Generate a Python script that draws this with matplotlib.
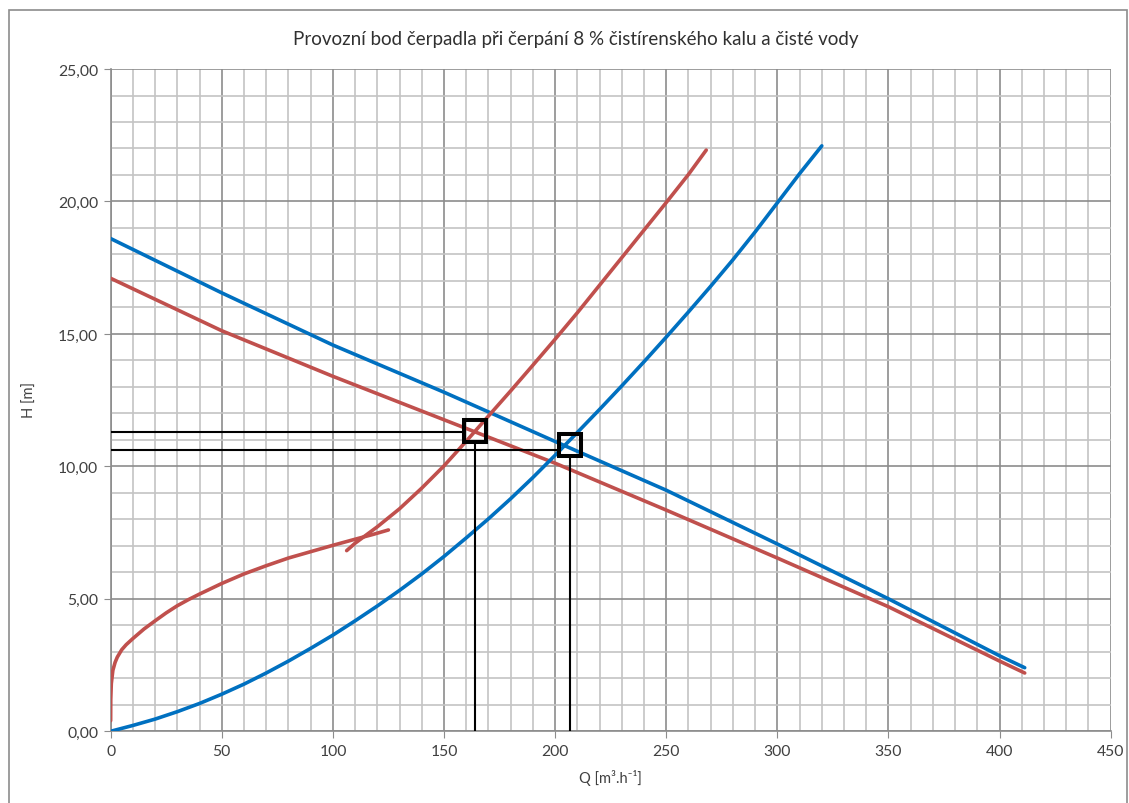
import matplotlib
matplotlib.use("Agg")
import matplotlib.pyplot as plt
from matplotlib.ticker import MultipleLocator, FuncFormatter
from matplotlib.patches import Rectangle

plt.rcParams['font.family'] = ['Lato', 'DejaVu Sans']

# pump curve - clean water (blue)
pump_w_q = [0, 50, 100, 150, 200, 250, 300, 350, 400, 411.3]
pump_w_h = [18.6, 16.55, 14.58, 12.8, 10.94, 9.1, 7.07, 5.0, 2.85, 2.4]

# pump curve - 8 % sludge (red)
pump_s_q = [0, 50, 100, 150, 200, 250, 300, 350, 400, 411.3]
pump_s_h = [17.1, 15.12, 13.4, 11.76, 10.12, 8.35, 6.54, 4.7, 2.65, 2.2]

# system curve - clean water (blue)
sys_w_q = [0, 10, 20, 30, 40, 50, 60, 70, 80, 90, 100, 110, 120, 130, 140, 150,
           160, 170, 180, 190, 200, 210, 220, 230, 240, 250, 260, 270, 280, 290,
           300, 310, 320]
sys_w_h = [0, 0.22, 0.46, 0.74, 1.05, 1.40, 1.78, 2.2, 2.65, 3.13, 3.63, 4.17,
           4.73, 5.32, 5.94, 6.6, 7.3, 8.02, 8.78, 9.58, 10.42, 11.28, 12.15,
           13.04, 13.95, 14.88, 15.83, 16.8, 17.8, 18.85, 19.95, 21.05, 22.1]

# system curve - sludge, laminar part (red)
sys_s1_q = [0, 0.05, 0.3, 1, 2, 3, 5, 7, 10, 15, 20, 25, 30, 35, 40, 50, 60, 70,
            80, 90, 100, 110, 118, 125]
sys_s1_h = [0.4, 1.2, 1.8, 2.3, 2.6, 2.8, 3.08, 3.27, 3.5, 3.86, 4.17, 4.47, 4.74,
            4.97, 5.18, 5.58, 5.94, 6.25, 6.54, 6.78, 7.02, 7.25, 7.43, 7.6]

# system curve - sludge, turbulent part (red)
sys_s2_q = [106.2, 110, 120, 130, 140, 150, 160, 170, 180, 190, 200, 210, 220,
            230, 240, 250, 260, 268]
sys_s2_h = [6.82, 7.1, 7.72, 8.4, 9.18, 10.02, 10.95, 11.9, 12.85, 13.82, 14.8,
            15.8, 16.84, 17.88, 18.92, 19.96, 21.02, 21.94]

# operating points
op_q = [164, 206.5]
op_h = [11.35, 10.8]
guide_h = [11.31, 10.63]
guide_q_end = [158.4, 201.0]
guide_v_top = [10.88, 10.34]

blue = '#0070C0'
red = '#C0504D'

fig = plt.figure(figsize=(11.29, 8.04), dpi=100)
ax = fig.add_axes([0.098, 0.0892, 0.8858, 0.8237])

for hh, qe in zip(guide_h, guide_q_end):
    ax.plot([0, qe], [hh, hh], color='black', lw=1.5, zorder=4)
for qq, ht in zip(op_q, guide_v_top):
    ax.plot([qq, qq], [0, ht], color='black', lw=1.5, zorder=4)

for qs, hs, c in [(pump_w_q, pump_w_h, blue), (pump_s_q, pump_s_h, red),
                  (sys_w_q, sys_w_h, blue), (sys_s1_q, sys_s1_h, red),
                  (sys_s2_q, sys_s2_h, red)]:
    ax.plot(qs, hs, color=c, lw=2.6, zorder=3, solid_capstyle='round',
            solid_joinstyle='round')

ax.plot(op_q, op_h, linestyle='none', marker='s', markersize=16.5,
        markerfacecolor='none', markeredgecolor='black', markeredgewidth=2.9, zorder=5)

ax.set_xlim(0, 450)
ax.set_ylim(0, 25)
ax.xaxis.set_major_locator(MultipleLocator(50))
ax.xaxis.set_minor_locator(MultipleLocator(10))
ax.yaxis.set_major_locator(MultipleLocator(5))
ax.yaxis.set_minor_locator(MultipleLocator(1))
ax.yaxis.set_major_formatter(FuncFormatter(lambda v, p: f"{v:.2f}".replace('.', ',')))
ax.xaxis.set_major_formatter(FuncFormatter(lambda v, p: f"{v:.0f}"))

ax.grid(which='major', color='#8c8c8c', lw=1.2, zorder=0)
ax.grid(which='minor', color='#c4c4c4', lw=1.2, zorder=0)
ax.set_axisbelow(True)
ax.tick_params(which='major', direction='out', length=5, color='#8c8c8c',
               labelsize=11.3, labelcolor='#404040', pad=4)
ax.tick_params(which='minor', length=0)
for s in ['top', 'right']:
    ax.spines[s].set_visible(False)
for s in ['left', 'bottom']:
    ax.spines[s].set_color('#8c8c8c')
    ax.spines[s].set_linewidth(1.2)

ax.set_xlabel('Q [m³.h⁻¹]', fontsize=10.5, color='#404040', labelpad=8)
ax.set_ylabel('H [m]', fontsize=10.5, color='#404040')
ax.yaxis.set_label_coords(-0.074, 0.502)
fig.text(0.51, 0.951, 'Provozní bod čerpadla při čerpání 8 % čistírenského kalu a čisté vody',
         ha='center', va='center', fontsize=13.5, color='#303030')

fig.patches.append(Rectangle((0.008, -0.01), 0.99, 0.996, transform=fig.transFigure,
                             fill=False, edgecolor='#8c8c8c', lw=1.2))

fig.savefig('out.png', dpi=100)
